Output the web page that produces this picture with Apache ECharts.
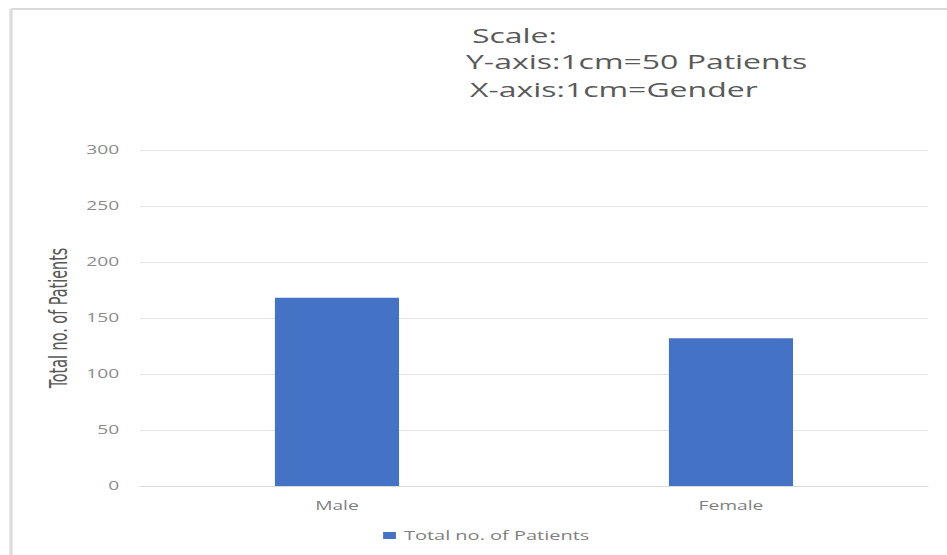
<!DOCTYPE html>
<html>
<head>
<meta charset="utf-8">
<style>
  html, body { margin: 0; padding: 0; background: #ffffff; overflow: hidden; }
  #wrap { width: 947px; height: 555px; overflow: hidden; }
  /* The chart is laid out on a narrower canvas and stretched horizontally,
     which widens every glyph the way the published figure shows it. */
  #chart { width: 592px; height: 555px; transform: scaleX(1.59966); transform-origin: 0 0; }
</style>
<script src="https://cdn.jsdelivr.net/npm/echarts@6/dist/echarts.min.js"></script>
</head>
<body>
<div id="wrap"><div id="chart"></div></div>
<script>
// Patients by gender
const categories = ['Male', 'Female'];
const patientCounts = [168, 132];
const seriesName = 'Total no. of Patients';
const scaleNotes = ['Scale:', 'Y-axis:1cm=50 Patients', 'X-axis:1cm=Gender'];

const chart = echarts.init(document.getElementById('chart'), null, { renderer: 'svg' });

const noteFont = { fontSize: 20, fill: '#595959', fontFamily: '"Open Sans", sans-serif' };

chart.setOption({
  animation: false,
  backgroundColor: '#ffffff',
  textStyle: { fontFamily: '"Open Sans", "Noto Sans", sans-serif' },
  graphic: [
    // outer frame (top and left edges)
    { type: 'line', shape: { x1: 6.9, y1: 9, x2: 592, y2: 9 }, style: { stroke: '#d9d9d9', lineWidth: 2 } },
    { type: 'line', shape: { x1: 6.9, y1: 9, x2: 6.9, y2: 555 }, style: { stroke: '#dcdcdc', lineWidth: 2 } },
    { type: 'text', left: 295, top: 25, style: Object.assign({ text: scaleNotes[0] }, noteFont) },
    { type: 'text', left: 291.3, top: 51, style: Object.assign({ text: scaleNotes[1] }, noteFont) },
    { type: 'text', left: 293.8, top: 79, style: Object.assign({ text: scaleNotes[2] }, noteFont) }
  ],
  grid: { left: 87.5, right: 11.9, top: 150, bottom: 69, containLabel: false },
  legend: {
    data: [seriesName],
    bottom: 8,
    left: 234.5,
    itemWidth: 8,
    itemHeight: 7,
    itemGap: 4,
    icon: 'rect',
    textStyle: { color: '#7f7f7f', fontSize: 12.5 }
  },
  xAxis: {
    type: 'category',
    data: categories,
    axisLine: { show: true, lineStyle: { color: '#d9d9d9' } },
    axisTick: { show: false },
    axisLabel: { color: '#7f7f7f', fontSize: 12, margin: 13 }
  },
  yAxis: {
    type: 'value',
    min: 0,
    max: 300,
    interval: 50,
    name: seriesName,
    nameLocation: 'middle',
    nameGap: 43.5,
    nameMoveOverlap: false,
    nameTextStyle: { color: '#595959', fontSize: 16, fontFamily: '"Liberation Sans Narrow", "DejaVu Sans Condensed", sans-serif' },
    axisLine: { show: false },
    axisTick: { show: false },
    axisLabel: { color: '#8c8c8c', fontSize: 12, margin: 13 },
    splitLine: { lineStyle: { color: '#e3e3e3', width: 1 } }
  },
  series: [{
    name: seriesName,
    type: 'bar',
    data: patientCounts,
    barWidth: '31.5%',
    itemStyle: { color: '#4472C4' }
  }]
});
</script>
</body>
</html>
